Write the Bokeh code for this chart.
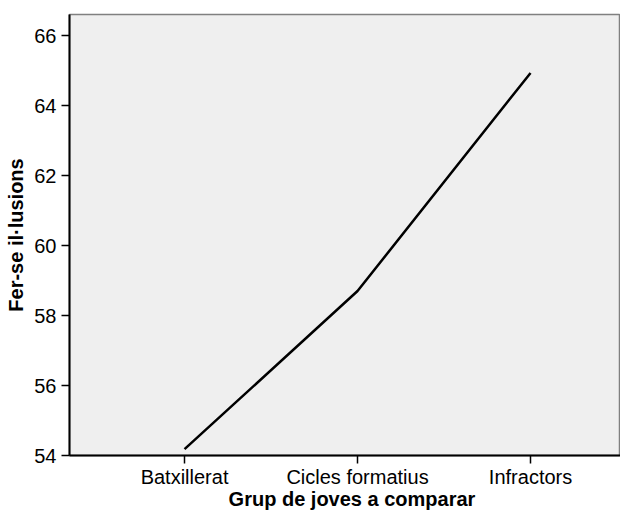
from bokeh.plotting import figure
from bokeh.models import Range1d, FixedTicker, Div
from bokeh.layouts import column
from bokeh.embed import file_html
from bokeh.resources import INLINE

categories = ["Batxillerat", "Cicles formatius", "Infractors"]
values = [54.18, 58.7, 64.93]
y_ticks = [54, 56, 58, 60, 62, 64, 66]
x_title = "Grup de joves a comparar"
y_title = "Fer-se il·lusions"

xs = list(range(len(categories)))

fig = figure(width=620, height=490, output_backend="svg", toolbar_location=None,
             x_range=Range1d(-0.665, 2.52), y_range=Range1d(54, 66.6),
             min_border_left=69, min_border_right=0, min_border_top=14, min_border_bottom=33,
             margin=(0, 0, 0, 0))

fig.background_fill_color = "#efefef"
fig.border_fill_color = "white"
fig.outline_line_color = "#808080"
fig.outline_line_width = 1.5
fig.grid.visible = False

fig.line(xs, values, line_color="black", line_width=2.5)

for ax in (fig.xaxis, fig.yaxis):
    ax.axis_line_color = "black"
    ax.axis_line_width = 2
    ax.major_tick_line_color = "black"
    ax.major_tick_line_width = 1.5
    ax.major_tick_in = 0
    ax.major_tick_out = 8
    ax.minor_tick_line_color = None
    ax.major_label_text_font = "Liberation Sans"
    ax.major_label_text_font_size = "20px"
    ax.major_label_text_color = "black"
    ax.axis_label_text_font = "Liberation Sans"
    ax.axis_label_text_font_size = "20px"
    ax.axis_label_text_font_style = "bold"
    ax.axis_label_text_color = "black"

fig.xaxis.ticker = FixedTicker(ticks=xs)
fig.xaxis.major_label_overrides = {i: c for i, c in zip(xs, categories)}
fig.xaxis.major_label_standoff = 2

fig.yaxis.ticker = FixedTicker(ticks=y_ticks)
fig.yaxis.axis_label = y_title
fig.yaxis.major_label_standoff = 5
fig.yaxis.axis_label_standoff = 4

title_div = Div(
    text=('<div style="display:block; width:536px; text-align:center; margin-left:84px; '
          'font-family:\'Liberation Sans\', Arial, sans-serif; font-weight:bold; '
          'font-size:20px; line-height:19px; color:black; white-space:nowrap">'
          + x_title + '</div>'),
    width=620, height=19, margin=(0, 0, 0, 0))

p = column(fig, title_div, spacing=0)

open("out.html", "w").write(file_html(p, INLINE))
